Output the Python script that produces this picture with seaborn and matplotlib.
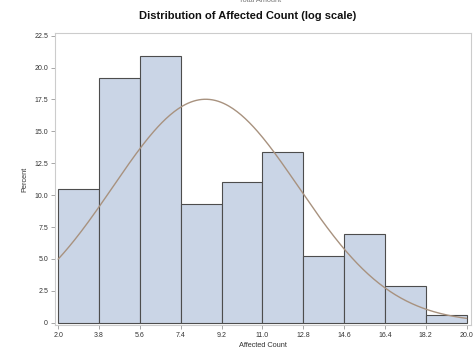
import numpy as np
import pandas as pd
import matplotlib
matplotlib.use("Agg")
import matplotlib.pyplot as plt
import seaborn as sns

# Histogram bins (bin edges) and the percent of records falling in each bin
bin_edges = [2.0, 3.8, 5.6, 7.4, 9.2, 11.0, 12.8, 14.6, 16.4, 18.2, 20.0]
percents = [10.47, 19.19, 20.93, 9.30, 11.05, 13.37, 5.23, 6.98, 2.91, 0.58]
tick_labels = ["2.0", "3.8", "5.6", "7.4", "9.2", "11.0", "12.8", "14.6", "16.4", "18.2", "20.0"]

# Fitted normal curve parameters
normal_mu = 8.5
normal_sigma = 4.10

edges = np.array(bin_edges)
mids = (edges[:-1] + edges[1:]) / 2
df = pd.DataFrame({"mid": mids, "pct": percents})

sns.set_theme(style="white")
plt.rcParams["font.family"] = ["Liberation Sans", "DejaVu Sans"]

fig = plt.figure(figsize=(4.75, 3.51), dpi=100)
ax = fig.add_axes([0.1158, 0.074, 0.875, 0.831])

sns.histplot(data=df, x="mid", weights="pct", bins=list(bin_edges), stat="count",
             color="#CAD5E6", edgecolor="#4d4d4d", linewidth=0.8, alpha=1.0, ax=ax)

# Normal density scaled to percent per bin
bw = edges[1] - edges[0]
xs = np.linspace(edges[0], edges[-1], 300)
ys = 100 * bw * np.exp(-0.5 * ((xs - normal_mu) / normal_sigma) ** 2) / (normal_sigma * np.sqrt(2 * np.pi))
sns.lineplot(x=xs, y=ys, color="#A8927F", linewidth=1.0, ax=ax)

ax.set_xlim(1.86, 20.18)
ax.set_ylim(-0.18, 22.68)
ax.set_xticks(edges)
ax.set_xticklabels(tick_labels)
yt = [0, 2.5, 5.0, 7.5, 10.0, 12.5, 15.0, 17.5, 20.0, 22.5]
ax.set_yticks(yt)
ax.set_yticklabels(["0"] + [f"{v:.1f}" for v in yt[1:]])

ax.tick_params(axis="both", which="both", labelsize=5, colors="#333333",
               length=3, width=0.6, direction="out", color="#999999",
               bottom=True, left=True, pad=2)
for s in ax.spines.values():
    s.set_color("#cccccc")
    s.set_linewidth(0.8)

ax.set_xlabel("Affected Count", fontsize=5.3, color="#333333", labelpad=2)
ax.set_ylabel("Percent", fontsize=5.3, color="#333333", labelpad=4)

fig.text(0.521, 0.955, "Distribution of Affected Count (log scale)",
         ha="center", va="center", fontsize=8.0, fontweight="bold", color="#111111")
fig.text(0.548, 1 - 2.0 / 351, "Total Amount", ha="center", va="baseline",
         fontsize=5.3, color="#777777")

fig.savefig("out.png", dpi=100)
